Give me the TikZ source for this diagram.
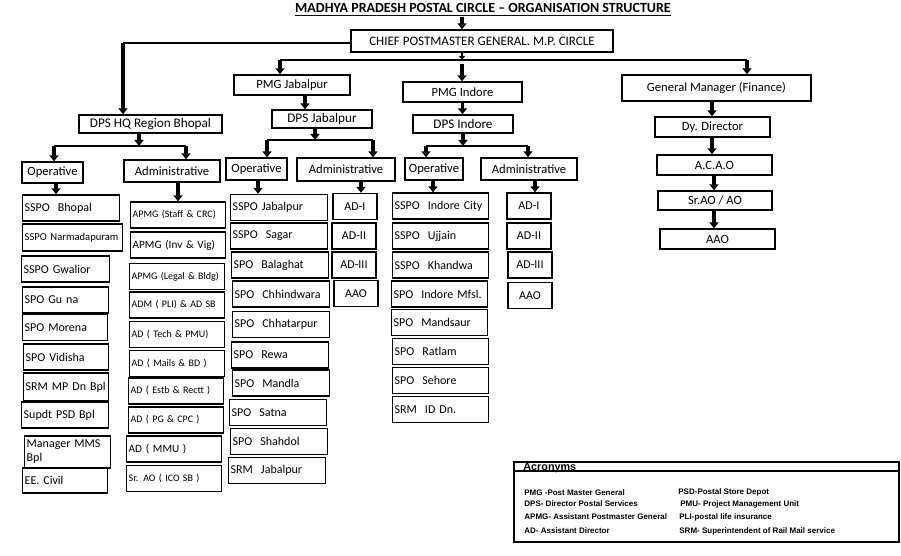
\documentclass[tikz,border=0pt]{standalone}
\usepackage{fontspec}
\setmainfont{Carlito}
\newfontfamily\acrfont{Liberation Sans}
\usepackage{tikz}
\usetikzlibrary{arrows.meta}

\begin{document}
\begin{tikzpicture}[x=0.5pt, y=-0.5pt, >={Triangle[width=4.5pt,length=3pt]},
    cell/.style={draw, line width=0.7pt, inner sep=1pt, minimum height=13pt},
    headcell/.style={cell, font=\fontsize{6.3}{7}\selectfont},
    opcell/.style={cell, anchor=west, text width=46.5pt, align=left, font=\fontsize{6}{7}\selectfont},
    admcell/.style={cell, anchor=west, text width=45.5pt, align=left, font=\fontsize{5}{6}\selectfont},
    adcell/.style={cell, minimum width=22pt, font=\fontsize{6}{7}\selectfont},
    link/.style={line width=0.7pt},
    arr/.style={->, line width=1.6pt},
    acr/.style={anchor=west, inner sep=0pt, font=\acrfont\bfseries\fontsize{4}{5}\selectfont}]

    \useasboundingbox (0,0) rectangle (901,556);

    % Tiêu đề và cấp trên cùng
    \node[font=\bfseries\fontsize{7}{8}\selectfont, inner sep=0pt] (title) at (483,10)
        {\underline{MADHYA PRADESH POSTAL CIRCLE – ORGANISATION STRUCTURE}};
    \node[headcell, minimum width=131pt, minimum height=11pt, font=\fontsize{6.5}{7}\selectfont] (cpmg) at (482,41)
        {CHIEF POSTMASTER GENERAL. M.P. CIRCLE};

    % Các khối PMG / DPS / GM
    \node[headcell, minimum width=58pt, minimum height=10pt] (pmgj) at (292,85) {PMG Jabalpur};
    \node[headcell, minimum width=50pt, minimum height=9pt, font=\fontsize{6.6}{7}\selectfont] (dpsj) at (322,119) {DPS Jabalpur};
    \node[headcell, minimum width=59.5pt, minimum height=10pt] (pmgi) at (462.5,92) {PMG Indore};
    \node[headcell, minimum width=50pt, minimum height=9pt, font=\fontsize{6.6}{7}\selectfont] (dpsi) at (463,124) {DPS Indore};
    \node[headcell, minimum width=71.5pt, minimum height=9pt, font=\fontsize{6.6}{7}\selectfont] (dpsb) at (150.5,124) {DPS HQ Region Bhopal};
    \node[headcell, minimum width=94.5pt, minimum height=13pt] (gm) at (716.5,88) {General Manager (Finance)};

    % Nhánh tài chính
    \node[headcell, minimum width=57.5pt, minimum height=10pt] (dy) at (712.5,127) {Dy. Director};
    \node[headcell, minimum width=57.5pt, minimum height=10pt] (acao) at (714.5,165) {A.C.A.O};
    \node[headcell, minimum width=57pt, minimum height=9.5pt] (srao) at (715,200.5) {Sr.AO / AO};
    \node[headcell, minimum width=57.5pt, minimum height=10pt] (aaof) at (717.5,239) {AAO};

    % Operative / Administrative
    \node[headcell, minimum width=30.5pt, minimum height=10.5pt] (opb) at (52.5,172.5) {Operative};
    \node[headcell, minimum width=48pt, minimum height=11pt] (admb) at (172,171) {Administrative};
    \node[headcell, minimum width=30.5pt, minimum height=11pt] (opj) at (256.5,169) {Operative};
    \node[headcell, minimum width=49pt, minimum height=11.5pt] (admj) at (346,169.5) {Administrative};
    \node[headcell, minimum width=29pt, minimum height=11pt] (opi) at (434,169) {Operative};
    \node[headcell, minimum width=48pt, minimum height=11pt] (admi) at (529,169) {Administrative};

    % Cột Bhopal - Operative
    \node[opcell] (bop1) at (22,208) {SSPO~~Bhopal};
    \node[opcell, text width=48pt, minimum height=13.5pt, font=\fontsize{5.3}{6}\selectfont] (bop2) at (22,237.5) {\mbox{SSPO Narmadapuram}};
    \node[opcell, text width=42pt] (bop3) at (21,269) {SSPO Gwalior};
    \node[opcell, text width=41pt] (bop4) at (22,300) {SPO Gu na};
    \node[opcell, text width=40.5pt] (bop5) at (22,327.5) {SPO Morena};
    \node[opcell, text width=40.5pt] (bop6) at (23,357) {SPO Vidisha};
    \node[opcell, text width=40.5pt, minimum height=14pt] (bop7) at (23,387) {SRM MP Dn Bpl};
    \node[opcell, text width=41.5pt] (bop8) at (21,415) {Supdt PSD Bpl};
    \node[opcell, text width=41pt, minimum height=16pt] (bop9) at (24,452) {Manager MMS\\Bpl};
    \node[opcell, text width=40.5pt, minimum height=12.5pt] (bop10) at (22,480.5) {EE. Civil};

    % Cột Bhopal - Administrative
    \node[admcell] (badm1) at (130,215) {APMG (Staff \& CRC)};
    \node[admcell, font=\fontsize{5.6}{6}\selectfont] (badm2) at (130,245) {APMG (Inv \& Vig)};
    \node[admcell] (badm3) at (129,276.5) {APMG (Legal \& Bldg)};
    \node[admcell] (badm4) at (129,305) {ADM ( PLI) \& AD SB};
    \node[admcell] (badm5) at (129,334.5) {AD ( Tech \& PMU)};
    \node[admcell] (badm6) at (129,363.5) {AD ( Mails \& BD )};
    \node[admcell] (badm7) at (128,391) {AD ( Estb \& Rectt )};
    \node[admcell] (badm8) at (128,420) {AD ( PG \& CPC )};
    \node[admcell, font=\fontsize{5.6}{6}\selectfont] (badm9) at (126,449) {AD ( MMU )};
    \node[admcell] (badm10) at (126,478.5) {Sr. AO ( ICO SB )};

    % Cột Jabalpur
    \node[opcell] (jop1) at (230,207.5) {SSPO Jabalpur};
    \node[opcell] (jop2) at (230,236) {SSPO~~Sagar};
    \node[opcell] (jop3) at (231,265) {SPO~~Balaghat};
    \node[opcell] (jop4) at (232,294) {SPO~~Chhindwara};
    \node[opcell] (jop5) at (232,324.5) {SPO~~Chhatarpur};
    \node[opcell] (jop6) at (231,355) {SPO~~Rewa};
    \node[opcell] (jop7) at (232,383) {SPO~~Mandla};
    \node[opcell] (jop8) at (229,412.5) {SPO~~Satna};
    \node[opcell] (jop9) at (230,441.5) {SPO~~Shahdol};
    \node[opcell] (jop10) at (228,470.5) {SRM~~Jabalpur};

    \node[adcell] (jadm1) at (355,206.5) {AD-I};
    \node[adcell] (jadm2) at (354,236) {AD-II};
    \node[adcell] (jadm3) at (354,265) {AD-III};
    \node[adcell] (jadm4) at (356,293.5) {AAO};

    % Cột Indore
    \node[opcell, text width=46pt] (iop1) at (392,206) {SSPO~~Indore City};
    \node[opcell, text width=46pt] (iop2) at (392,236) {SSPO~~Ujjain};
    \node[opcell, text width=46pt] (iop3) at (392,265) {SSPO~~Khandwa};
    \node[opcell, text width=46pt] (iop4) at (391,294) {SPO~~Indore Mfsl.};
    \node[opcell, text width=46pt] (iop5) at (391,322.5) {SPO~~Mandsaur};
    \node[opcell, text width=46pt] (iop6) at (392,351.5) {SPO~~Ratlam};
    \node[opcell, text width=46pt] (iop7) at (392,380.5) {SPO~~Sehore};
    \node[opcell, text width=46pt] (iop8) at (392,409.5) {SRM~~ID Dn.};

    \node[adcell] (iadm1) at (529,206) {AD-I};
    \node[adcell] (iadm2) at (529,236) {AD-II};
    \node[adcell] (iadm3) at (530,265) {AD-III};
    \node[adcell] (iadm4) at (530,295.5) {AAO};

    % Mũi tên cấp trên
    \coordinate (t0) at (462,17);
    \draw[arr] (t0) -- (t0 |- cpmg.north);

    \coordinate (b0) at (123,43);
    \draw[link] (cpmg.west |- b0) -- (b0);
    \draw[arr] (b0) -- (b0 |- dpsb.north);

    \coordinate (m0) at (462,60);
    \coordinate (mj) at (280,60);
    \coordinate (mi) at (462,64);
    \coordinate (mf) at (747,60);
    \draw[link, -{Triangle[width=3pt,length=2pt]}] (m0 |- cpmg.south) -- (m0);
    \draw[link] (mj) -- (mf);
    \draw[arr] (mj) -- (mj |- pmgj.north);
    \draw[arr] (mi) -- (mi |- pmgi.north);
    \draw[arr] (mf) -- (mf |- gm.north);

    \draw[arr] (305,0 |- pmgj.south) -- (305,0 |- dpsj.north);
    \draw[arr] (pmgi.south) -- (pmgi.south |- dpsi.north);

    % Nhánh tài chính
    \draw[arr] (712,0 |- gm.south) -- (712,0 |- dy.north);
    \draw[arr] (712,0 |- dy.south) -- (712,0 |- acao.north);
    \draw[arr] (714,0 |- acao.south) -- (714,0 |- srao.north);
    \draw[arr] (714,0 |- srao.south) -- (714,0 |- aaof.north);

    % Tách Bhopal
    \coordinate (bs) at (139,146);
    \coordinate (bl) at (54,146);
    \coordinate (br) at (186,146);
    \draw[arr] (bs |- dpsb.south) -- (bs);
    \draw[link] (bl) -- (br);
    \draw[arr] (bl) -- (bl |- opb.north);
    \draw[arr] (br) -- (br |- admb.north);
    \draw[arr] (56,0 |- opb.south) -- (56,0 |- bop1.north);
    \draw[arr] (178,0 |- admb.south) -- (178,0 |- badm1.north);

    % Tách Jabalpur
    \coordinate (js) at (315,140);
    \coordinate (jl) at (267,140);
    \coordinate (jr) at (373,140);
    \draw[arr] (js |- dpsj.south) -- (js);
    \draw[link] (jl) -- (jr);
    \draw[arr] (jl) -- (jl |- opj.north);
    \draw[arr] (jr) -- (jr |- admj.north);
    \draw[arr] (258,0 |- opj.south) -- (258,0 |- jop1.north);
    \draw[arr] (361,0 |- admj.south) -- (361,0 |- jadm1.north);

    % Tách Indore
    \coordinate (isp) at (463,146);
    \coordinate (il) at (426,146);
    \coordinate (ir) at (528,146);
    \draw[arr] (isp |- dpsi.south) -- (isp);
    \draw[link] (il) -- (ir);
    \draw[arr] (il) -- (il |- opi.north);
    \draw[arr] (ir) -- (ir |- admi.north);
    \draw[arr] (433,0 |- opi.south) -- (433,0 |- iop1.north);
    \draw[arr] (535,0 |- admi.south) -- (535,0 |- iadm1.north);

    % Bảng chữ viết tắt
    \draw[line width=1pt] (514,462) rectangle (899,471);
    \draw[line width=0.7pt] (514,471) rectangle (899,542);
    \node[anchor=base west, inner sep=0pt, font=\acrfont\bfseries\fontsize{5.4}{6}\selectfont] (acrhead) at (523,470) {Acronyms};
    \node[acr] (acr1) at (524,493) {PMG -Post Master General};
    \node[acr] (acr2) at (524,504) {DPS- Director Postal Services};
    \node[acr] (acr3) at (524,517) {APMG- Assistant Postmaster General};
    \node[acr] (acr4) at (524,531) {AD- Assistant Director};
    \node[acr] (acr5) at (678,492) {PSD-Postal Store Depot};
    \node[acr] (acr6) at (680,504) {PMU- Project Management Unit};
    \node[acr] (acr7) at (679,517) {PLI-postal life insurance};
    \node[acr] (acr8) at (679,531) {SRM- Superintendent of Rail Mail service};

\end{tikzpicture}
\end{document}
